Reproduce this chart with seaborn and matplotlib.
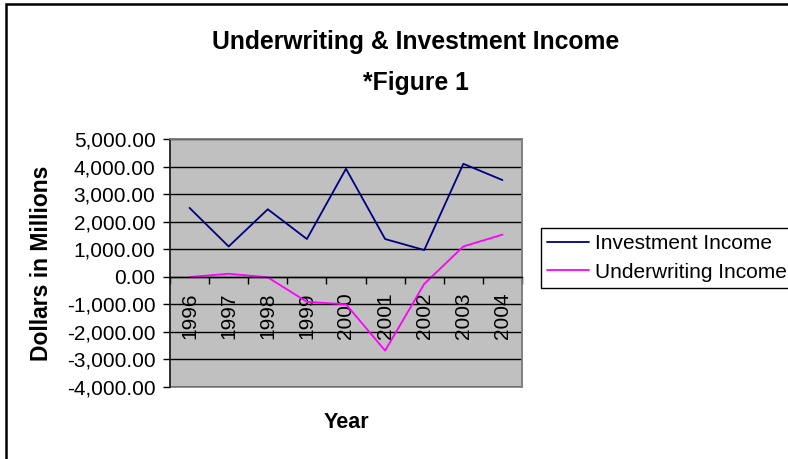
import matplotlib
matplotlib.use('Agg')
import matplotlib.pyplot as plt
import seaborn as sns
import pandas as pd
from matplotlib.patches import Rectangle
from matplotlib.ticker import FixedLocator, FuncFormatter

years = ['1996', '1997', '1998', '1999', '2000', '2001', '2002', '2003', '2004']
investment_income = [2500, 1100, 2450, 1370, 3920, 1370, 970, 4100, 3510]
underwriting_income = [-10, 110, -20, -910, -1000, -2680, -260, 1100, 1530]
series_names = ['Investment Income', 'Underwriting Income']
y_ticks = [-4000, -3000, -2000, -1000, 0, 1000, 2000, 3000, 4000, 5000]

df = pd.DataFrame({
    'Year': years + years,
    'Value': investment_income + underwriting_income,
    'Series': [series_names[0]] * len(years) + [series_names[1]] * len(years),
})

sns.set_style('white')
plt.rcParams['font.family'] = ['Liberation Sans', 'DejaVu Sans']
plt.rcParams['text.color'] = 'black'
plt.rcParams['axes.labelcolor'] = 'black'

W, H = 788, 459
fig = plt.figure(figsize=(W / 100, H / 100), dpi=100)
ax = fig.add_axes([170 / W, 1 - 387 / H, 352 / W, 248 / H])
ax.set_facecolor('#C0C0C0')

sns.lineplot(data=df, x='Year', y='Value', hue='Series',
             palette={series_names[0]: '#000080', series_names[1]: '#FF00FF'},
             sort=False, linewidth=1.3, ax=ax)

ax.set_xlim(-0.5, len(years) - 0.5)
ax.set_ylim(y_ticks[0], y_ticks[-1])
ax.set_yticks(y_ticks)
ax.yaxis.set_major_formatter(FuncFormatter(lambda v, p: f'{v:,.2f}'))
ax.yaxis.grid(True, color='black', linewidth=1.0)
ax.xaxis.grid(False)
ax.set_axisbelow(True)

# category axis crossing at zero
ax.spines['bottom'].set_position(('data', 0))
ax.spines['bottom'].set_color('black')
ax.spines['bottom'].set_linewidth(1.0)
for s in ['top', 'right']:
    ax.spines[s].set_color('#808080')
    ax.spines[s].set_linewidth(1.2)
ax.spines['left'].set_color('#202020')
ax.spines['left'].set_linewidth(1.2)
ax.add_patch(Rectangle((0, 0), 1, 1, transform=ax.transAxes, fill=False,
                       edgecolor='#808080', linewidth=1.2, clip_on=False, zorder=0.5))

ax.set_xticks(range(len(years)))
ax.set_xticklabels(years, rotation=90)
ax.xaxis.set_minor_locator(FixedLocator([i - 0.5 for i in range(len(years) + 1)]))
ax.tick_params(axis='x', which='major', length=0, pad=11, labelsize=15, colors='black')
ax.tick_params(axis='x', which='minor', length=5, width=1, direction='out', color='black', bottom=True)
ax.tick_params(axis='y', which='major', length=5, width=1, direction='out', pad=5.5,
               labelsize=15, colors='black', left=True)

ax.set_xlabel('')
ax.set_ylabel('')

fig.text(346 / W, 1 - 423 / H, 'Year', ha='center', va='center', fontsize=15.5, fontweight='bold')
fig.text(42 / W, 1 - 263 / H, 'Dollars in Millions', ha='center', va='center', rotation=90,
         fontsize=16.5, fontweight='bold')
fig.text(416 / W, 1 - 42 / H, 'Underwriting & Investment Income', ha='center', va='center',
         fontsize=17.8, fontweight='bold')
fig.text(416 / W, 1 - 83 / H, '*Figure 1', ha='center', va='center',
         fontsize=17.8, fontweight='bold')

leg = ax.legend(loc='upper left', bbox_to_anchor=(541 / W, 1 - 228 / H), bbox_transform=fig.transFigure,
                frameon=True, fancybox=False, shadow=False, fontsize=15, handlelength=2.0,
                handletextpad=0.3, borderpad=0.3, labelspacing=0.45, borderaxespad=0)
leg.get_frame().set_edgecolor('black')
leg.get_frame().set_linewidth(1.0)
leg.get_frame().set_facecolor('white')
leg.get_frame().set_alpha(1)

fig.add_artist(Rectangle((6 / W, -0.1), 1.2, 1.1 - 4 / H, transform=fig.transFigure,
                         fill=False, edgecolor='black', linewidth=1.8))

fig.savefig('out.png', dpi=100)
